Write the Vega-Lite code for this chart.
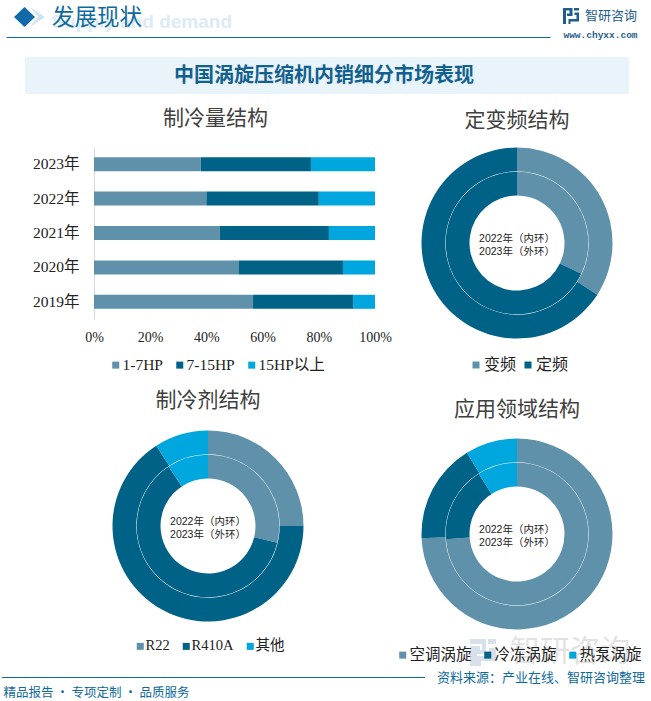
{
"$schema":"https://vega.github.io/schema/vega-lite/v6.json",
"padding":0,
"background":"white",
"spacing":0,
"resolve":{"scale":{"color":"independent","theta":"independent"},"legend":{"color":"independent"}},
"config":{"view":{"stroke":null},"concat":{"spacing":0},"font":"Liberation Serif, Noto Sans CJK SC"},
"datasets":{
"one":[{"label":"x"}],
"bars":[
{"year":"2023年","type":"1-7HP","k":1,"share":38},{"year":"2023年","type":"7-15HP","k":2,"share":39.2},{"year":"2023年","type":"15HP以上","k":3,"share":22.8},
{"year":"2022年","type":"1-7HP","k":1,"share":40},{"year":"2022年","type":"7-15HP","k":2,"share":40},{"year":"2022年","type":"15HP以上","k":3,"share":20},
{"year":"2021年","type":"1-7HP","k":1,"share":44.8},{"year":"2021年","type":"7-15HP","k":2,"share":38.8},{"year":"2021年","type":"15HP以上","k":3,"share":16.4},
{"year":"2020年","type":"1-7HP","k":1,"share":51.6},{"year":"2020年","type":"7-15HP","k":2,"share":37},{"year":"2020年","type":"15HP以上","k":3,"share":11.4},
{"year":"2019年","type":"1-7HP","k":1,"share":56.6},{"year":"2019年","type":"7-15HP","k":2,"share":35.6},{"year":"2019年","type":"15HP以上","k":3,"share":7.8}],
"freq":[{"ring":"2022","type":"变频","k":1,"share":32.1},{"ring":"2022","type":"定频","k":2,"share":67.9},{"ring":"2023","type":"变频","k":1,"share":34.1},{"ring":"2023","type":"定频","k":2,"share":65.9}],
"refr":[{"ring":"2022","type":"R22","k":1,"share":28.8},{"ring":"2022","type":"R410A","k":2,"share":61.9},{"ring":"2022","type":"其他","k":3,"share":9.3},{"ring":"2023","type":"R22","k":1,"share":25},{"ring":"2023","type":"R410A","k":2,"share":65.9},{"ring":"2023","type":"其他","k":3,"share":9.1}],
"app":[{"ring":"2022","type":"空调涡旋","k":1,"share":73.8},{"ring":"2022","type":"冷冻涡旋","k":2,"share":17.2},{"ring":"2022","type":"热泵涡旋","k":3,"share":9},{"ring":"2023","type":"空调涡旋","k":1,"share":74.3},{"ring":"2023","type":"冷冻涡旋","k":2,"share":16.9},{"ring":"2023","type":"热泵涡旋","k":3,"share":8.8}],
"center":[{"label":"2022年（内环）\n2023年（外环）"}]
},
"vconcat":[
{"hconcat":[
 {"width":6,"height":37,"data":{"name":"one"},"mark":{"type":"point","opacity":0,"size":1},"encoding":{}},
 {"width":544,"height":37,"data":{"name":"one"},"layer":[
  {"mark":{"type":"point","opacity":0},"encoding":{"x":{"datum":0,"type":"quantitative","scale":{"domain":[0,1]},"axis":{"labels":false,"ticks":false,"grid":false,"title":null,"domain":true,"domainColor":"#0e6a9c","domainWidth":1}}}},
  {"mark":{"type":"point","filled":true,"opacity":1,"fill":"#cfe3f0","size":4,"shape":"M-248,-11.5L-233,-1.5L-248,8.5L-240,-1.5Z"},"encoding":{}},
  {"mark":{"type":"point","filled":true,"opacity":1,"fill":"#126ba8","size":4,"shape":"M-264,-1.5L-253.5,-11.5L-243,-1.5L-253.5,8.5Z"},"encoding":{}},
  {"mark":{"type":"text","text":"Supply and demand","align":"right","dx":-46,"dy":3,"font":"Liberation Sans","fontWeight":"bold","fontSize":19,"fill":"#dcebf5"},"encoding":{}},
  {"mark":{"type":"text","text":"发展现状","dx":-181,"dy":-1,"font":"Noto Sans CJK SC","fontSize":22.5,"fill":"#0e6a9c"},"encoding":{}}
 ]},
 {"width":101,"height":37,"data":{"name":"one"},"layer":[
  {"mark":{"type":"point","filled":true,"opacity":1,"fill":"#1f5d8e","size":4,"shape":"M-37.5,-10.5H-28V-2.5H-33.5V-5H-31V-8H-34.5V5.5H-37.5Z M-26.5,-10.5H-21.5V-8H-26.5Z M-26,-6H-21.5V3H-30V5.5H-32V0.5H-24V-3.5H-26Z"},"encoding":{}},
  {"mark":{"type":"text","text":"智研咨询","dx":10.5,"dy":-3,"font":"Noto Sans CJK SC","fontSize":13,"fill":"#1f5d8e"},"encoding":{}},
  {"mark":{"type":"text","text":"www.chyxx.com","dy":16.5,"font":"Liberation Mono","fontWeight":"bold","fontSize":9.5,"fill":"#1f5d8e"},"encoding":{}}
 ]}
],"spacing":0,"bounds":"flush"},
{"width":651,"height":17,"data":{"name":"one"},"mark":{"type":"point","opacity":0},"encoding":{}},
{"hconcat":[
 {"width":25,"height":37,"data":{"name":"one"},"mark":{"type":"point","opacity":0},"encoding":{}},
 {"width":604,"height":37,"view":{"fill":"#e8f3fa"},"data":{"name":"one"},"mark":{"type":"text","text":"中国涡旋压缩机内销细分市场表现","dx":-3,"font":"Noto Sans CJK SC","fontWeight":"bold","fontSize":20,"fill":"#12608f"},"encoding":{}}
],"spacing":0,"bounds":"flush"},
{"width":651,"height":14,"data":{"name":"one"},"mark":{"type":"point","opacity":0},"encoding":{}},
{"hconcat":[
 {"width":94,"height":172,"data":{"name":"one"},"mark":{"type":"point","opacity":0},"encoding":{}},
 {"width":281,"height":172,
    "title":{"text":"制冷量结构","font":"Noto Sans CJK SC","fontSize":21,"fontWeight":"normal","color":"#404040","offset":18,"dx":-19},
    "data":{"name":"bars"},
    "mark":{"type":"bar","size":14},
    "encoding":{
     "y":{"field":"year","type":"nominal","sort":["2023年","2022年","2021年","2020年","2019年"],"title":null,"axis":{"labelFontSize":15.5,"labelColor":"#222222","labelPadding":15,"ticks":false,"domainColor":"#d9d9d9","labelFont":"Liberation Serif, Noto Sans CJK SC"}},
     "x":{"field":"share","type":"quantitative","stack":"normalize","title":null,"scale":{"domain":[0,1]},"axis":{"values":[0,0.2,0.4,0.6,0.8,1],"format":".0%","grid":false,"domain":false,"ticks":false,"labelFlush":false,"labelFontSize":14,"labelColor":"#222222","labelPadding":11}},
     "color":{"field":"type","type":"nominal","scale":{"domain":["1-7HP","7-15HP","15HP以上"],"range":["#5f92aa","#016287","#00a6de"]},"legend":{"orient":"none","direction":"horizontal","title":null,"legendX":14,"legendY":210,"symbolType":"square","symbolSize":49,"labelFontSize":15.5,"labelColor":"#222222","columnPadding":9,"labelOffset":-1}},
     "order":{"field":"k","type":"quantitative"}
    }},
 {"width":41,"height":1,"data":{"name":"one"},"mark":{"type":"point","opacity":0},"encoding":{}},
 {"width":202,"height":192,
   "title":{"text":"定变频结构","font":"Noto Sans CJK SC","fontSize":21,"fontWeight":"normal","color":"#404040","offset":16},
   "layer":[
    {"data":{"name":"freq"},"transform":[{"filter":"datum.ring=='2022'"}],"mark":{"type":"arc","innerRadius":47.5,"outerRadius":71.3},
     "encoding":{"theta":{"field":"share","type":"quantitative"},"order":{"field":"k","type":"quantitative"},
      "color":{"field":"type","type":"nominal","scale":{"domain":["变频","定频"],"range":["#5f92aa","#016287"]},"legend":{"orient":"none","direction":"horizontal","title":null,"legendX":52,"legendY":210,"symbolType":"square","symbolSize":49,"labelFontSize":16,"labelColor":"#222222","columnPadding":3,"labelOffset":0}}}},
    {"data":{"name":"freq"},"transform":[{"filter":"datum.ring=='2023'"}],"mark":{"type":"arc","innerRadius":71.7,"outerRadius":95.5},
     "encoding":{"theta":{"field":"share","type":"quantitative"},"order":{"field":"k","type":"quantitative"},"color":{"field":"type","type":"nominal","scale":{"domain":["变频","定频"],"range":["#5f92aa","#016287"]}}}},
    {"data":{"name":"center"},"mark":{"type":"text","lineBreak":"\n","lineHeight":13,"dy":-4,"font":"Liberation Sans, Noto Sans CJK SC","fontSize":10.5,"fill":"#222222"},"encoding":{"text":{"field":"label"}}}
   ]}
],"spacing":0,"bounds":"flush","resolve":{"scale":{"color":"independent","theta":"independent"},"legend":{"color":"independent"}}},
{"width":651,"height":16,"data":{"name":"one"},"mark":{"type":"point","opacity":0},"encoding":{}},
{"hconcat":[
 {"width":416,"height":192,
   "title":{"text":"制冷剂结构","font":"Noto Sans CJK SC","fontSize":21,"fontWeight":"normal","color":"#404040","offset":19},
   "layer":[
    {"data":{"name":"refr"},"transform":[{"filter":"datum.ring=='2022'"}],"mark":{"type":"arc","innerRadius":47.5,"outerRadius":71.3},
     "encoding":{"theta":{"field":"share","type":"quantitative"},"order":{"field":"k","type":"quantitative"},
      "color":{"field":"type","type":"nominal","scale":{"domain":["R22","R410A","其他"],"range":["#5f92aa","#016287","#00a6de"]},"legend":{"orient":"none","direction":"horizontal","title":null,"legendX":133,"legendY":209,"symbolType":"square","symbolSize":49,"labelFontSize":14.5,"labelColor":"#222222","columnPadding":9,"labelOffset":-2}}}},
    {"data":{"name":"refr"},"transform":[{"filter":"datum.ring=='2023'"}],"mark":{"type":"arc","innerRadius":71.7,"outerRadius":95.5},
     "encoding":{"theta":{"field":"share","type":"quantitative"},"order":{"field":"k","type":"quantitative"},"color":{"field":"type","type":"nominal","scale":{"domain":["R22","R410A","其他"],"range":["#5f92aa","#016287","#00a6de"]}}}},
    {"data":{"name":"center"},"mark":{"type":"text","lineBreak":"\n","lineHeight":13,"dy":-4,"font":"Liberation Sans, Noto Sans CJK SC","fontSize":10.5,"fill":"#222222"},"encoding":{"text":{"field":"label"}}}
   ]},
 {"width":202,"height":208,
   "title":{"text":"应用领域结构","font":"Noto Sans CJK SC","fontSize":21,"fontWeight":"normal","color":"#404040","offset":10},
   "layer":[
    {"data":{"name":"one"},"mark":{"type":"point","filled":true,"opacity":1,"fill":"#d8e0ea","size":4,"shape":"M-47,105H-31V120H-40V132H-47V112H-37V116H-35V110H-47Z M-29,105H-21V110H-29Z M-28,114H-21V127H-36V132H-40V122H-28Z"},"encoding":{}},
    {"data":{"name":"one"},"mark":{"type":"text","text":"智研咨询","dx":53,"dy":118,"font":"Noto Sans CJK SC","fontSize":30,"fill":"#e2e2e2"},"encoding":{}},
    {"data":{"name":"app"},"transform":[{"filter":"datum.ring=='2022'"}],"mark":{"type":"arc","innerRadius":47.5,"outerRadius":71.3},
     "encoding":{"theta":{"field":"share","type":"quantitative"},"order":{"field":"k","type":"quantitative"},
      "color":{"field":"type","type":"nominal","scale":{"domain":["空调涡旋","冷冻涡旋","热泵涡旋"],"range":["#5f92aa","#016287","#00a6de"]},"legend":{"orient":"none","direction":"horizontal","title":null,"legendX":-21,"legendY":217,"symbolType":"square","symbolSize":49,"labelFontSize":15.5,"labelColor":"#222222","columnPadding":8,"labelOffset":-1}}}},
    {"data":{"name":"app"},"transform":[{"filter":"datum.ring=='2023'"}],"mark":{"type":"arc","innerRadius":71.7,"outerRadius":95.5},
     "encoding":{"theta":{"field":"share","type":"quantitative"},"order":{"field":"k","type":"quantitative"},"color":{"field":"type","type":"nominal","scale":{"domain":["空调涡旋","冷冻涡旋","热泵涡旋"],"range":["#5f92aa","#016287","#00a6de"]}}}},
    {"data":{"name":"center"},"mark":{"type":"text","lineBreak":"\n","lineHeight":13,"dy":-4,"font":"Liberation Sans, Noto Sans CJK SC","fontSize":10.5,"fill":"#222222"},"encoding":{"text":{"field":"label"}}}
   ]}
],"spacing":0,"bounds":"flush","resolve":{"scale":{"color":"independent","theta":"independent"},"legend":{"color":"independent"}}},
{"width":651,"height":4,"data":{"name":"one"},"mark":{"type":"point","opacity":0,"size":1},"encoding":{}},
{"hconcat":[
 {"width":2,"height":1,"data":{"name":"one"},"mark":{"type":"point","opacity":0,"size":1},"encoding":{}},
 {"width":423,"height":1,"view":{"fill":"#0e6a9c"},"data":{"name":"one"},"mark":{"type":"point","opacity":0,"size":1},"encoding":{}},
 {"width":226,"height":1,"data":{"name":"one"},"mark":{"type":"text","text":"资料来源：产业在线、智研咨询整理","dx":3,"font":"Noto Sans CJK SC","fontSize":13,"fill":"#0e6a9c"},"encoding":{}}
],"spacing":0,"bounds":"flush"},
{"width":193,"height":15,"data":{"name":"one"},"mark":{"type":"text","text":"精品报告 · 专项定制 · 品质服务","font":"Noto Sans CJK SC","fontSize":12.5,"fill":"#0e6a9c"},"encoding":{}}
]}
